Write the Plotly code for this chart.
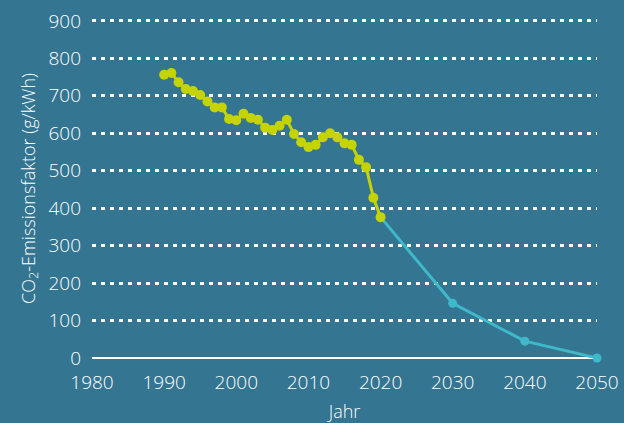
import plotly.graph_objects as go

hist_years = list(range(1990, 2021))
hist_values = [756, 761, 736, 718, 713, 702, 685, 669, 669, 638, 635, 652, 641, 636,
               615, 609, 620, 636, 598, 576, 563, 569, 589, 600, 589, 573, 569, 529,
               509, 428, 376]
proj_years = [2020, 2030, 2040, 2050]
proj_values = [376, 146, 45, 0]

x_ticks = [1980, 1990, 2000, 2010, 2020, 2030, 2040, 2050]
y_ticks = [0, 100, 200, 300, 400, 500, 600, 700, 800, 900]

bg = "#347592"
yellow = "#c5d300"
cyan = "#3fb8c9"
font = "Open Sans"

fig = go.Figure()
fig.add_trace(go.Scatter(
    x=proj_years, y=proj_values, mode="lines+markers",
    line=dict(color=cyan, width=3), marker=dict(color=cyan, size=9),
    cliponaxis=False, showlegend=False))
fig.add_trace(go.Scatter(
    x=hist_years, y=hist_values, mode="lines+markers",
    line=dict(color=yellow, width=3), marker=dict(color=yellow, size=10),
    cliponaxis=False, showlegend=False))

fig.update_layout(
    width=624, height=423,
    paper_bgcolor=bg, plot_bgcolor=bg,
    margin=dict(l=92, r=27, t=19, b=65),
    font=dict(family=font, color="white", size=18, weight=300),
    xaxis=dict(
        range=[1980, 2050], tickvals=x_ticks, ticktext=[str(v) for v in x_ticks],
        showgrid=False, zeroline=False, showline=False, ticks="", automargin=False,
        ticklabelstandoff=11,
        tickfont=dict(size=19, color="white", weight=300),
        title=dict(text="Jahr", font=dict(size=18, color="white", weight=300), standoff=13),
        fixedrange=True,
    ),
    yaxis=dict(
        range=[0, 905], tickvals=y_ticks, ticktext=[str(v) for v in y_ticks],
        showgrid=True, gridcolor="white", gridwidth=3, griddash="4px,5px",
        zeroline=True, zerolinecolor="white", zerolinewidth=2, automargin=False,
        showline=False, ticks="", ticklabelstandoff=10,
        tickfont=dict(size=19, color="white", weight=300),
        title=dict(text="CO<sub>2</sub>-Emissionsfaktor (g/kWh)",
                   font=dict(size=18, color="white", weight=300), standoff=8),
        fixedrange=True,
    ),
)

post = (
    "var s='margin:0;padding:0;overflow:hidden;width:624px;height:423px;';"
    "document.documentElement.style.cssText=s;document.body.style.cssText=s;"
)
fig.write_html("out.html", config={"displayModeBar": False}, post_script=post)
